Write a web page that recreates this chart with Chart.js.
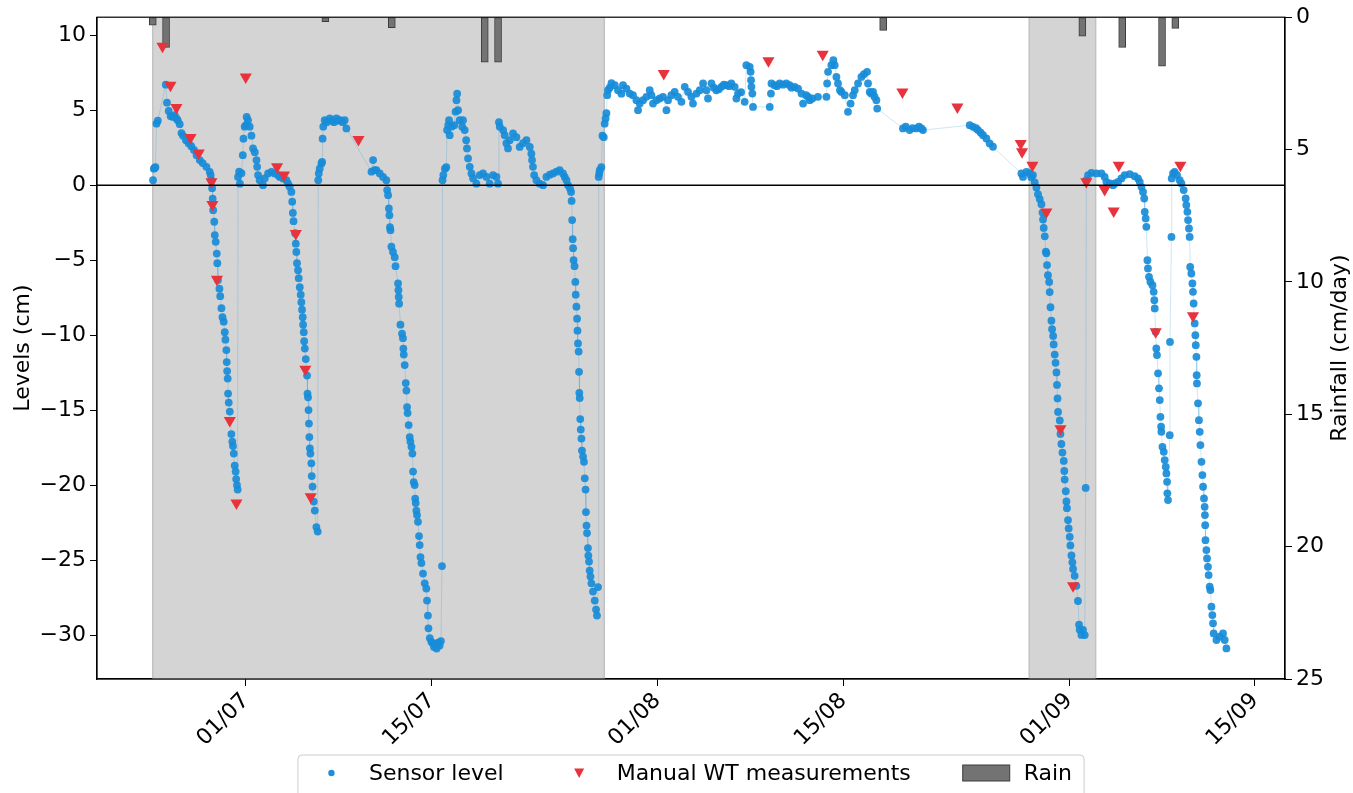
<!DOCTYPE html>
<html>
<head>
<meta charset="utf-8">
<script src="https://cdn.jsdelivr.net/npm/chart.js@4.4.1/dist/chart.umd.min.js"></script>
<style>
  html, body { margin: 0; padding: 0; background: #fff; }
  #wrap { width: 1353px; height: 793px; }
</style>
</head>
<body>
<div id="wrap"><canvas id="levelsChart" width="1353" height="793"></canvas></div>
<script>
// days counted from 01/07 00:00
const xTickDays = [0, 14, 31, 45, 62, 76];
const xTickLabels = ['01/07', '15/07', '01/08', '15/08', '01/09', '15/09'];
const levelTicks = [-30, -25, -20, -15, -10, -5, 0, 5, 10];
const rainTicks = [0, 5, 10, 15, 20, 25];

// shaded periods [start, end]
const shadeSpans = [[-7, 27], [59, 64]];

// rain (cm/day)
const rainDays = [-7, -6, 6, 11, 18, 19, 48, 63, 66, 69, 70];
const rainValues = [0.3, 1.14, 0.17, 0.4, 1.7, 1.7, 0.5, 0.72, 1.14, 1.85, 0.42];

// manual water table readings [day, cm]
const manualLevels = [
  [-6.27, 9.27], [-5.67, 6.67], [-5.22, 5.18], [-4.16, 3.18], [-3.54, 2.15], [-2.58, 0.22],
  [-2.51, -1.29], [-2.17, -6.28], [-1.2, -15.7], [-0.7, -21.2], [0.0, 7.22], [2.36, 1.22],
  [2.88, 0.67], [3.77, -3.22], [4.49, -12.27], [4.89, -20.78], [8.49, 3.05], [31.48, 7.44],
  [39.36, 8.29], [43.45, 8.73], [49.45, 6.22], [53.59, 5.22], [58.36, 2.78], [58.46, 2.22],
  [59.24, 1.33], [60.29, -1.79], [61.35, -16.25], [62.3, -26.72], [63.3, 0.22], [64.68, -0.29],
  [65.36, -1.73], [65.74, 1.33], [68.52, -9.78], [70.38, 1.33], [71.33, -8.71]
];

// sensor readings [day, cm]
const sensorLevels = [
  [-6.98, 0.33], [-6.92, 1.1], [-6.86, 1.15], [-6.8, 1.2], [-6.72, 4.1], [-6.62, 4.3], [-6.02, 6.7],
  [-5.93, 5.5], [-5.8, 4.95], [-5.65, 4.6], [-5.5, 4.55], [-5.35, 4.67], [-5.22, 4.45], [-5.12, 4.33],
  [-4.97, 4.07], [-4.84, 3.47], [-4.72, 3.29], [-4.5, 3.0], [-4.3, 2.8], [-4.1, 2.6], [-3.9, 2.35],
  [-3.7, 2.0], [-3.46, 1.67], [-3.24, 1.47], [-2.96, 1.22], [-2.71, 0.89], [-2.64, 0.67], [-2.58, 0.33],
  [-2.53, -0.2], [-2.49, -0.9], [-2.45, -1.67], [-2.37, -2.44], [-2.33, -3.33], [-2.26, -3.78],
  [-2.18, -4.56], [-2.14, -5.2], [-2.09, -6.33], [-1.98, -6.9], [-1.92, -7.4], [-1.83, -8.2],
  [-1.75, -8.8], [-1.66, -9.1], [-1.58, -9.8], [-1.53, -10.3], [-1.46, -11.0], [-1.43, -11.8],
  [-1.4, -12.4], [-1.36, -12.9], [-1.33, -13.9], [-1.28, -14.5], [-1.2, -15.1], [-1.08, -16.6],
  [-1.01, -17.1], [-0.96, -17.4], [-0.9, -17.9], [-0.83, -18.7], [-0.76, -19.1], [-0.72, -19.6],
  [-0.66, -20.0], [-0.61, -20.3],
  [-0.58, 0.55], [-0.5, 0.9], [-0.44, 0.1], [-0.32, 0.8], [-0.22, 2.0], [-0.17, 3.1], [-0.08, 3.9],
  [0.02, 4.0], [0.07, 4.55], [0.17, 4.33], [0.3, 3.9], [0.43, 3.3], [0.55, 2.45], [0.68, 2.2],
  [0.81, 1.67], [0.86, 1.22], [0.93, 0.67], [1.05, 0.33], [1.3, 0.0], [1.43, 0.45], [1.68, 0.78],
  [1.94, 0.89], [2.18, 0.78], [2.43, 0.67], [2.56, 0.55], [2.81, 0.45], [3.06, 0.33], [3.19, 0.1],
  [3.31, -0.1], [3.44, -0.45], [3.5, -1.1], [3.55, -1.85], [3.6, -2.4], [3.72, -3.2], [3.77, -3.9],
  [3.81, -4.45], [3.86, -5.2], [3.94, -5.67], [3.99, -6.2], [4.07, -6.8], [4.14, -7.3], [4.19, -7.8],
  [4.24, -8.3], [4.29, -8.8], [4.32, -9.3], [4.37, -9.8], [4.4, -10.4], [4.45, -10.9], [4.52, -11.6],
  [4.62, -12.7], [4.65, -13.9], [4.69, -14.15], [4.73, -15.0], [4.76, -15.9], [4.79, -16.8],
  [4.83, -17.55], [4.87, -17.9], [4.94, -18.55], [4.97, -19.4], [5.03, -20.1], [5.12, -21.1],
  [5.2, -21.7], [5.32, -22.8], [5.42, -23.1],
  [5.46, 0.33], [5.5, 0.78], [5.57, 1.1], [5.7, 1.45], [5.75, 1.55], [5.79, 3.1], [5.84, 3.9],
  [5.95, 4.33], [6.1, 4.2], [6.33, 4.45], [6.5, 4.3], [6.65, 4.2], [6.83, 4.45], [7.0, 4.3],
  [7.1, 4.33], [7.3, 4.2], [7.45, 4.33], [7.58, 3.78], [9.47, 0.9], [9.59, 1.67], [9.7, 1.0],
  [9.84, 1.0], [10.09, 0.78], [10.34, 0.55], [10.59, 0.33], [10.65, -0.33], [10.72, -0.67],
  [10.78, -1.55], [10.82, -2.0], [10.86, -2.8], [10.9, -3.0], [10.97, -4.1], [11.09, -4.45],
  [11.22, -4.8], [11.28, -5.4], [11.47, -6.55], [11.5, -7.0], [11.52, -7.45], [11.55, -7.9],
  [11.65, -9.3], [11.77, -9.9], [11.84, -10.2], [11.87, -10.9], [11.9, -11.3], [11.97, -12.0],
  [12.05, -13.2], [12.1, -13.7], [12.15, -14.8], [12.19, -15.2], [12.27, -16.0], [12.35, -16.8],
  [12.4, -17.1], [12.48, -17.45], [12.55, -17.9], [12.6, -19.1], [12.65, -19.8], [12.72, -20.0],
  [12.76, -20.9], [12.8, -21.2], [12.85, -21.7], [12.9, -22.0], [12.97, -22.45], [13.05, -23.4],
  [13.1, -24.0], [13.16, -24.8], [13.23, -25.2], [13.35, -25.9], [13.48, -26.55], [13.6, -26.9],
  [13.65, -27.7], [13.72, -28.7], [13.76, -29.55], [13.86, -30.2], [13.98, -30.45], [14.08, -30.55],
  [14.18, -30.8], [14.28, -30.6], [14.38, -30.9], [14.48, -30.5], [14.6, -30.7], [14.7, -30.4],
  [14.78, -25.4],
  [14.82, 0.33], [14.88, 0.67], [15.0, 1.1], [15.1, 1.2], [15.16, 3.67], [15.25, 4.0], [15.31, 4.33],
  [15.36, 3.33], [15.5, 3.9], [15.7, 4.0], [15.8, 4.9], [15.87, 5.67], [15.92, 6.1], [15.99, 5.0],
  [16.11, 4.33], [16.3, 3.9], [16.36, 4.33], [16.49, 3.67], [16.6, 3.0], [16.66, 2.45], [16.74, 1.78],
  [16.87, 1.22], [17.0, 0.78], [17.12, 0.45], [17.37, 0.1], [17.62, 0.67], [17.87, 0.78], [18.13, 0.55],
  [18.37, 0.1], [18.62, 0.67], [18.88, 0.55], [19.0, 0.1], [19.07, 4.2], [19.13, 3.9], [19.38, 3.67],
  [19.5, 3.33], [19.63, 2.8], [19.75, 2.45], [19.88, 3.0], [20.13, 3.45], [20.38, 3.2], [20.63, 2.55],
  [20.88, 2.8], [21.14, 3.0], [21.39, 2.55], [21.51, 2.1], [21.56, 1.67], [21.63, 1.22], [21.72, 0.67],
  [21.89, 0.33], [22.14, 0.1], [22.39, 0.0], [22.64, 0.55], [22.9, 0.7], [23.14, 0.78], [23.4, 0.9],
  [23.64, 1.0], [23.89, 0.78], [24.02, 0.55], [24.15, 0.33], [24.27, 0.0], [24.42, -0.22],
  [24.5, -0.45], [24.54, -1.05], [24.58, -2.33], [24.62, -3.6], [24.65, -4.2], [24.69, -5.0],
  [24.76, -5.4], [24.82, -6.45], [24.85, -7.3], [24.9, -8.1], [24.95, -8.9], [24.98, -9.7],
  [25.02, -10.55], [25.07, -11.1], [25.1, -12.45], [25.12, -13.85], [25.15, -14.2], [25.19, -15.6],
  [25.23, -16.3], [25.28, -16.9], [25.32, -17.7], [25.4, -18.1], [25.47, -18.45], [25.53, -19.55],
  [25.59, -20.3], [25.62, -21.8], [25.66, -22.7], [25.7, -23.2], [25.77, -24.2], [25.8, -24.7],
  [25.85, -25.1], [25.9, -25.7], [25.96, -26.1], [26.03, -26.55], [26.15, -27.1], [26.28, -27.7],
  [26.38, -28.3], [26.45, -28.7], [26.53, -26.8],
  [26.58, 0.55], [26.62, 0.78], [26.66, 1.0], [26.78, 1.2], [26.86, 3.3], [26.96, 3.2], [27.03, 4.1],
  [27.1, 4.45], [27.16, 4.8], [27.22, 6.0], [27.28, 6.33], [27.41, 6.5], [27.54, 6.8], [27.79, 6.67],
  [28.03, 6.33], [28.29, 6.1], [28.41, 6.67], [28.67, 6.44], [28.92, 6.11], [29.16, 6.0], [29.42, 5.67],
  [29.54, 5.0], [29.67, 5.44], [29.92, 5.67], [30.17, 5.89], [30.42, 6.33], [30.55, 6.0], [30.67, 5.44],
  [30.93, 5.67], [31.17, 5.78], [31.42, 5.89], [31.68, 5.0], [31.8, 5.67], [32.05, 6.0], [32.3, 6.22],
  [32.55, 5.89], [32.81, 5.56], [33.06, 6.56], [33.31, 6.22], [33.56, 5.89], [33.68, 5.44],
  [33.94, 6.11], [34.19, 6.33], [34.44, 6.78], [34.69, 6.33], [34.81, 5.78], [35.07, 6.78],
  [35.25, 6.5], [35.44, 6.33], [35.62, 6.4], [35.82, 6.56], [36.0, 6.7], [36.2, 6.67], [36.4, 6.6],
  [36.57, 6.78], [36.82, 6.56], [36.95, 5.78], [37.07, 6.11], [37.3, 6.2], [37.57, 5.56], [37.7, 8.0],
  [37.95, 7.89], [38.02, 7.56], [38.05, 7.0], [38.08, 6.56], [38.15, 6.11], [38.2, 5.22], [39.46, 5.22],
  [39.55, 6.11], [39.59, 6.78], [39.83, 6.67], [40.0, 6.6], [40.21, 6.78], [40.45, 6.7], [40.71, 6.78],
  [40.96, 6.67], [41.1, 6.5], [41.34, 6.56], [41.59, 6.44], [41.85, 6.11], [41.97, 5.44], [42.2, 6.0],
  [42.35, 5.89], [42.47, 5.67], [42.67, 5.78], [43.09, 5.89], [43.73, 5.89], [43.78, 6.78], [43.85, 7.56],
  [44.1, 8.0], [44.25, 8.33], [44.35, 8.0], [44.48, 7.22], [44.6, 6.78], [44.75, 6.33], [44.86, 6.22],
  [45.11, 6.0], [45.35, 4.89], [45.55, 5.44], [45.73, 6.0], [45.86, 6.33], [46.11, 6.78], [46.36, 7.22],
  [46.55, 7.4], [46.79, 7.56], [46.86, 6.78], [46.99, 6.22], [47.1, 6.11], [47.24, 6.22], [47.35, 5.9],
  [47.49, 5.67], [47.55, 5.11],
  [49.49, 3.78], [49.7, 3.9], [49.99, 3.67], [50.2, 3.8], [50.5, 3.78], [50.7, 3.9], [50.88, 3.78],
  [51.0, 3.67], [54.52, 4.0], [54.77, 3.89], [55.0, 3.8], [55.14, 3.67], [55.35, 3.5], [55.52, 3.33],
  [55.77, 3.11], [56.02, 2.78], [56.27, 2.56], [58.41, 0.78], [58.53, 0.55], [58.79, 0.89],
  [59.04, 0.78], [59.16, 0.53], [59.28, 0.67],
  [59.41, 0.19], [59.54, -0.15], [59.66, -0.6], [59.79, -0.93], [59.92, -1.27], [60.0, -1.83],
  [60.04, -2.29], [60.09, -2.85], [60.17, -3.41], [60.25, -4.43], [60.29, -4.54], [60.34, -5.33],
  [60.41, -6.0], [60.5, -6.45], [60.54, -7.13], [60.6, -8.14], [60.67, -9.04], [60.72, -9.6],
  [60.8, -10.05], [60.84, -10.62], [60.92, -11.3], [60.98, -11.85], [61.05, -12.49], [61.09, -13.32],
  [61.13, -14.22], [61.17, -15.12], [61.3, -15.69], [61.35, -16.59], [61.42, -17.26], [61.5, -17.83],
  [61.6, -18.39], [61.64, -19.06], [61.67, -19.63], [61.75, -20.41], [61.8, -21.09], [61.84, -21.54],
  [61.92, -22.33], [61.97, -22.89], [62.05, -23.45], [62.1, -24.02], [62.18, -24.69], [62.25, -25.15],
  [62.3, -25.59], [62.42, -26.05], [62.55, -26.72], [62.67, -27.73], [62.75, -29.31], [62.8, -29.65],
  [62.93, -29.99], [63.05, -29.65], [63.18, -30.0], [63.25, -20.19],
  [63.3, 0.33], [63.43, 0.67], [63.68, 0.82], [64.06, 0.78], [64.44, 0.78], [64.68, 0.55], [64.81, 0.22],
  [65.06, 0.11], [65.31, 0.0], [65.44, 0.11], [65.69, 0.22], [65.94, 0.45], [66.19, 0.67], [66.57, 0.73],
  [66.94, 0.6], [67.19, 0.45], [67.32, 0.22], [67.45, -0.11], [67.57, -0.45], [67.66, -0.89],
  [67.7, -1.78], [67.77, -2.22], [67.82, -2.78], [67.9, -5.0], [67.94, -5.55], [68.02, -6.11],
  [68.12, -6.44], [68.28, -6.67], [68.37, -7.11], [68.42, -7.67], [68.45, -8.22], [68.52, -9.78],
  [68.57, -10.89], [68.62, -11.33], [68.7, -12.55], [68.77, -13.55], [68.83, -14.33], [68.88, -15.45],
  [68.93, -16.11], [68.95, -16.45], [69.03, -17.45], [69.13, -17.78], [69.2, -18.33], [69.28, -18.78],
  [69.33, -19.22], [69.38, -19.78], [69.4, -20.55], [69.45, -21.0], [69.58, -16.67], [69.6, -10.45],
  [69.71, -3.45], [69.73, 0.45],
  [69.83, 0.78], [69.95, 0.89], [70.13, 0.67], [70.33, 0.33], [70.46, 0.11], [70.63, -0.33],
  [70.78, -0.89], [70.83, -1.33], [70.91, -1.78], [70.96, -2.33], [71.03, -2.89], [71.08, -3.45],
  [71.12, -5.45], [71.21, -5.89], [71.29, -6.55], [71.33, -7.11], [71.38, -7.89], [71.46, -9.22],
  [71.51, -10.0], [71.54, -10.67], [71.59, -11.45], [71.61, -12.67], [71.63, -13.22], [71.71, -14.55],
  [71.78, -15.67], [71.84, -16.45], [71.89, -17.33], [71.97, -18.45], [72.04, -19.33], [72.09, -20.11],
  [72.16, -20.89], [72.21, -21.45], [72.23, -22.0], [72.25, -22.67], [72.27, -23.67], [72.34, -24.33],
  [72.39, -24.89], [72.46, -25.45], [72.51, -26.0], [72.59, -26.78], [72.64, -27.0], [72.72, -28.11],
  [72.79, -28.67], [72.84, -29.22], [72.89, -29.89], [73.1, -30.33], [73.34, -30.11], [73.59, -29.89],
  [73.72, -30.33], [73.85, -30.89]
];

const legendLabels = ['Sensor level', 'Manual WT measurements', 'Rain'];

const FONT = 'DejaVu Sans';
Chart.defaults.font.family = FONT;
Chart.defaults.font.size = 22;
Chart.defaults.color = '#000';

const toXY = arr => arr.map(p => ({ x: p[0], y: p[1] }));

// grey background spans
const shadePlugin = {
  id: 'shades',
  beforeDatasetsDraw(chart) {
    const { ctx, chartArea: a, scales: { x } } = chart;
    ctx.save();
    shadeSpans.forEach(s => {
      const x1 = x.getPixelForValue(s[0]);
      const x2 = x.getPixelForValue(s[1]);
      ctx.fillStyle = '#d4d4d4';
      ctx.fillRect(x1, a.top, x2 - x1, a.bottom - a.top);
      ctx.strokeStyle = '#c2c2c2';
      ctx.lineWidth = 1.5;
      ctx.beginPath();
      ctx.moveTo(x1, a.top); ctx.lineTo(x1, a.bottom);
      ctx.moveTo(x2, a.top); ctx.lineTo(x2, a.bottom);
      ctx.stroke();
    });
    ctx.restore();
  }
};

// zero line, frame, right title, legend
const overlayPlugin = {
  id: 'overlay',
  afterDatasetsDraw(chart) {
    const { ctx, chartArea: a, scales: { y } } = chart;
    const y0 = y.getPixelForValue(0);
    ctx.save();
    ctx.strokeStyle = '#000';
    ctx.lineWidth = 1.5;
    ctx.beginPath();
    ctx.moveTo(a.left, y0);
    ctx.lineTo(a.right, y0);
    ctx.stroke();
    ctx.restore();
  },
  afterDraw(chart) {
    const { ctx, chartArea: a } = chart;
    ctx.save();
    ctx.strokeStyle = '#000';
    ctx.lineWidth = 1.2;
    ctx.strokeRect(a.left, a.top, a.right - a.left, a.bottom - a.top);

    ctx.font = '22px "' + FONT + '"';
    ctx.fillStyle = '#000';
    ctx.translate(a.right + 55, (a.top + a.bottom) / 2);
    ctx.rotate(-Math.PI / 2);
    ctx.textAlign = 'center';
    ctx.textBaseline = 'middle';
    ctx.fillText('Rainfall (cm/day)', 0, 0);
    ctx.restore();

    // legend
    ctx.save();
    ctx.font = '22px "' + FONT + '"';
    const handle = 47, gap = 14, colGap = 52, padL = 10, padR = 12;
    const widths = legendLabels.map(t => ctx.measureText(t).width);
    let total = padL + padR + colGap * (legendLabels.length - 1);
    widths.forEach(w => { total += handle + gap + w; });
    const left = (a.left + a.right) / 2 - total / 2;
    const top = a.bottom + 76;
    const cy = top + 18;
    ctx.fillStyle = 'rgba(255,255,255,0.8)';
    ctx.strokeStyle = '#cccccc';
    ctx.lineWidth = 1;
    ctx.beginPath();
    ctx.roundRect(left, top, total, 60, 4);
    ctx.fill();
    ctx.stroke();

    let x = left + padL;
    legendLabels.forEach((t, i) => {
      const cx = x + handle / 2;
      if (i === 0) {
        ctx.fillStyle = '#1f8fd9';
        ctx.beginPath();
        ctx.arc(cx, cy, 3.2, 0, Math.PI * 2);
        ctx.fill();
      } else if (i === 1) {
        ctx.fillStyle = '#e8323c';
        ctx.beginPath();
        ctx.moveTo(cx - 5, cy - 4.5);
        ctx.lineTo(cx + 5, cy - 4.5);
        ctx.lineTo(cx, cy + 5);
        ctx.closePath();
        ctx.fill();
      } else {
        ctx.fillStyle = '#737373';
        ctx.strokeStyle = '#3c3c3c';
        ctx.fillRect(x, cy - 8, handle, 16);
        ctx.strokeRect(x, cy - 8, handle, 16);
      }
      ctx.fillStyle = '#000';
      ctx.textAlign = 'left';
      ctx.textBaseline = 'middle';
      ctx.fillText(t, x + handle + gap, cy + 1);
      x += handle + gap + widths[i] + colGap;
    });
    ctx.restore();
  }
};

const tickGrid = { display: true, offset: false, drawOnChartArea: false, drawTicks: true, tickLength: 7, color: '#000', tickColor: '#000' };

new Chart(document.getElementById('levelsChart'), {
  type: 'scatter',
  data: {
    datasets: [
      {
        label: 'Manual WT measurements',
        data: toXY(manualLevels),
        pointStyle: 'triangle',
        rotation: 180,
        pointRadius: 7,
        backgroundColor: '#e8323c',
        borderColor: '#e8323c',
        borderWidth: 0,
        yAxisID: 'y'
      },
      {
        label: 'Sensor level',
        data: toXY(sensorLevels),
        showLine: true,
        borderColor: 'rgba(31,143,217,0.22)',
        borderWidth: 1,
        pointRadius: 3.9,
        pointBackgroundColor: 'rgba(24,140,216,0.92)',
        pointBorderWidth: 0,
        yAxisID: 'y'
      },
      {
        type: 'bar',
        label: 'Rain',
        data: rainDays.map((d, i) => ({ x: d, y: rainValues[i] })),
        backgroundColor: '#737373',
        borderColor: '#3c3c3c',
        borderWidth: 1,
        borderSkipped: false,
        barThickness: 7,
        yAxisID: 'yR'
      }
    ]
  },
  options: {
    responsive: false,
    animation: false,
    layout: { padding: { top: 17, left: 0, right: 0, bottom: 38 } },
    plugins: { legend: { display: false }, tooltip: { enabled: false } },
    scales: {
      x: {
        type: 'linear',
        min: -11.2,
        max: 78.26,
        offset: false,
        grid: tickGrid,
        border: { display: true, color: '#000', width: 1.2 },
        afterBuildTicks: s => { s.ticks = xTickDays.map(v => ({ value: v })); },
        afterFit: s => { s.height = 76; },
        ticks: {
          autoSkip: false,
          minRotation: 45,
          maxRotation: 45,
          padding: 2,
          callback: v => xTickLabels[xTickDays.indexOf(v)]
        }
      },
      y: {
        position: 'left',
        min: -32.93,
        max: 11.2,
        grid: tickGrid,
        border: { display: true, color: '#000', width: 1.2 },
        afterBuildTicks: s => { s.ticks = levelTicks.map(v => ({ value: v })); },
        afterFit: s => { s.width = 97; },
        ticks: { padding: 4, callback: v => (v < 0 ? '\u2212' + Math.abs(v) : String(v)) },
        title: { display: true, text: 'Levels (cm)', padding: { top: 10, bottom: 0 } }
      },
      yR: {
        position: 'right',
        reverse: true,
        min: 0,
        max: 25,
        grid: tickGrid,
        border: { display: true, color: '#000', width: 1.2 },
        afterBuildTicks: s => { s.ticks = rainTicks.map(v => ({ value: v })); },
        afterFit: s => { s.width = 68; },
        ticks: { padding: 4 }
      }
    }
  },
  plugins: [shadePlugin, overlayPlugin]
});
</script>
</body>
</html>
